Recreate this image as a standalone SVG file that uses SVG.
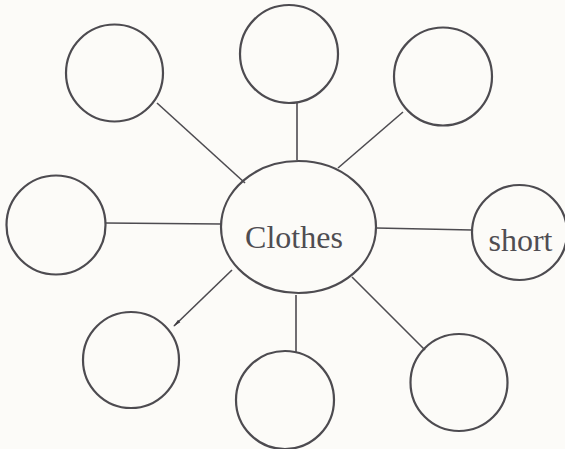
<svg xmlns="http://www.w3.org/2000/svg" width="565" height="449" viewBox="0 0 565 449">
<style>
.node{fill:none;stroke:#4d4b50;stroke-width:2.2}
.edge{stroke:#4d4b50;stroke-width:1.6;fill:none}
.lbl{font-family:"Liberation Serif",serif;font-size:32px;fill:#4f4d52;text-anchor:middle}
</style>
<defs>
<marker id="tip" viewBox="0 0 10 6" refX="9" refY="3" markerWidth="5" markerHeight="3" orient="auto" markerUnits="strokeWidth">
<path d="M0,1 L10,3 L0,5 Z" fill="#3f3d42"/>
</marker>
</defs>
<rect width="565" height="449" fill="#fcfbf8"/>
<g id="connectors">
<line class="edge" x1="157" y1="103" x2="245" y2="183"/>
<line class="edge" x1="297" y1="103" x2="297" y2="160"/>
<line class="edge" x1="403" y1="112" x2="338" y2="168"/>
<line class="edge" x1="105" y1="223" x2="221" y2="224"/>
<line class="edge" x1="376" y1="228" x2="472" y2="230"/>
<line class="edge" x1="232" y1="270" x2="174" y2="326" marker-end="url(#tip)"/>
<line class="edge" x1="296" y1="295" x2="296" y2="352"/>
<line class="edge" x1="352" y1="277" x2="425" y2="350"/>
</g>
<g id="n-center"><ellipse class="node" cx="298.5" cy="227" rx="77.5" ry="66"/><text class="lbl" x="294" y="248">Clothes</text></g>
<g id="n-topleft"><circle class="node" cx="114.5" cy="73" r="48.5"/></g>
<g id="n-top"><circle class="node" cx="289" cy="54" r="49"/></g>
<g id="n-topright"><circle class="node" cx="443" cy="76.5" r="49"/></g>
<g id="n-left"><circle class="node" cx="56" cy="225" r="49.5"/></g>
<g id="n-short"><circle class="node" cx="519.5" cy="232.5" r="47.5"/><text class="lbl" x="520.5" y="251">short</text></g>
<g id="n-bottomleft"><circle class="node" cx="131" cy="360" r="48"/></g>
<g id="n-bottom"><circle class="node" cx="285" cy="400" r="49"/></g>
<g id="n-bottomright"><circle class="node" cx="459" cy="382.5" r="48.5"/></g>
</svg>
